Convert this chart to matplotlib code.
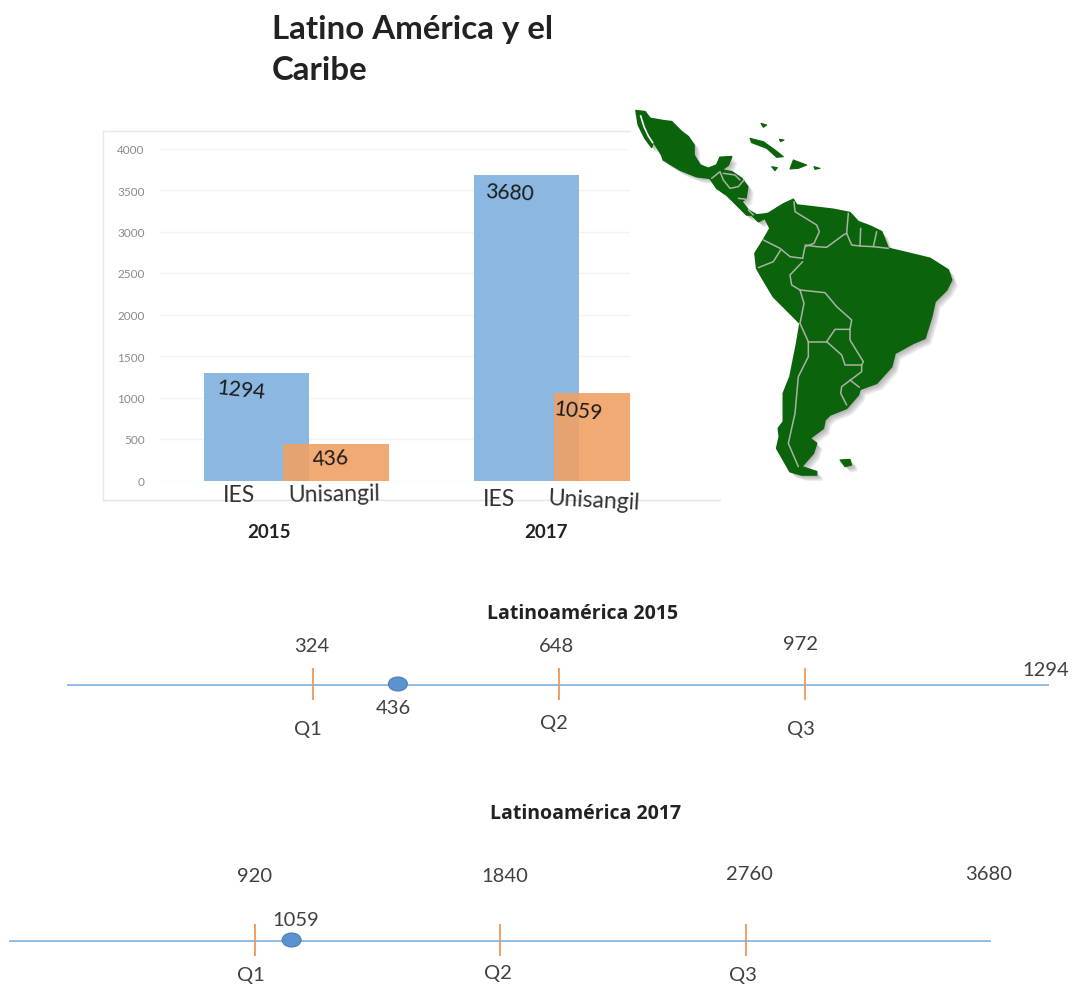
import matplotlib
matplotlib.use('Agg')
import numpy as np
import matplotlib.pyplot as plt
from matplotlib.patches import Polygon, Ellipse

W, H = 1073, 987

# --- datos ---
ies_vals = [1294, 3680]
uni_vals = [436, 1059]
years = ['2015', '2017']
y_ticks = [0, 500, 1000, 1500, 2000, 2500, 3000, 3500, 4000]
q_2015 = [324, 648, 972]
max_2015 = 1294
punto_2015 = 436
q_2017 = [920, 1840, 2760]
max_2017 = 3680
punto_2017 = 1059
q_names = ['Q1', 'Q2', 'Q3']

# contorno del mapa (coordenadas del dibujo, no son datos)
continente = [(48,32),(75,35),(90,55),(130,62),(155,65),(185,95),(205,110),(222,135),(222,165),(240,195),
    (265,205),(290,195),(300,172),(335,170),(325,195),(305,210),(335,215),(365,235),(383,260),(378,295),
    (365,305),(385,330),(410,345),(435,342),(445,340),(490,312),(520,298),(530,315),(590,322),(640,328),
    (690,338),(715,365),(750,378),(785,395),(805,445),(860,458),(930,475),(985,510),(995,540),(980,570),
    (945,605),(935,650),(915,715),(880,730),(825,760),(815,800),(770,850),(720,868),(715,885),(680,925),
    (630,945),(615,960),(610,985),(570,1015),(590,1030),(580,1060),(545,1100),(590,1115),(590,1125),(545,1125),
    (510,1115),(490,1080),(470,1045),(478,1010),(475,985),(490,965),(490,880),(510,830),(530,730),(540,670),
    (510,640),(460,590),(430,540),(410,505),(405,460),(430,420),(450,385),(435,355),(415,365),(395,345),
    (380,345),(360,325),(345,310),(320,285),(290,265),(270,235),(230,230),(180,210),(130,180),(125,165),
    (100,125),(95,142),(75,115),(55,75)]
golfo = [(62,48),(72,80),(85,108),(98,128)]
islas = [
    [(390,115),(430,125),(465,150),(490,170),(470,172),(440,145),(395,128)],
    [(510,207),(520,180),(560,195),(535,205)],
    [(455,200),(472,203),(465,212)],
    [(582,200),(600,205),(585,208)],
    [(423,70),(440,75),(430,82)],
    [(478,118),(492,120),(482,125)],
    [(660,1080),(690,1078),(695,1095),(675,1100)],
]
fronteras = [
    [(522,305),(525,335),(590,375),(598,395),(582,430),(555,440),(548,475)],
    [(555,435),(590,440),(620,442),(670,405),(680,400)],
    [(685,340),(680,400)],
    [(722,385),(720,438)],
    [(770,395),(760,440)],
    [(680,400),(695,435),(720,438),(760,440),(805,445)],
    [(430,420),(480,445),(510,470),(548,475)],
    [(415,503),(460,485),(482,450)],
    [(548,485),(510,525),(515,555),(540,570)],
    [(540,570),(552,610),(540,670)],
    [(540,570),(615,578),(650,620),(695,660),(690,688)],
    [(690,688),(645,688),(620,725)],
    [(540,670),(565,725)],
    [(565,725),(620,725)],
    [(620,725),(665,765),(675,795),(725,795)],
    [(690,688),(690,720),(730,785),(725,795)],
    [(725,795),(725,815),(665,860),(662,880),(680,915)],
    [(690,840),(718,862)],
    [(565,725),(565,770),(535,830),(525,940),(505,1030),(535,1100)],
    [(275,235),(300,215),(310,240),(330,265),(355,260),(372,240)],
    [(310,220),(345,225),(360,240)],
    [(355,295),(380,298)],
    [(385,330),(400,345)],
]

plt.rcParams['font.family'] = ['Lato', 'DejaVu Sans']


def zoom_a_px(pts):
    # el contorno se tomó de un recorte 3x con origen en (620, 100)
    return [(620 + x / 3, 100 + y / 3) for x, y in pts]


def ejes_px(fig, x0, y0, x1, y1):
    return fig.add_axes([x0 / W, 1 - y1 / H, (x1 - x0) / W, (y1 - y0) / H])


fig = plt.figure(figsize=(W / 100, H / 100), dpi=100, facecolor='white')

# --- barras ---
ax = ejes_px(fig, 160, 149.5, 630, 481.5)
ax.set_xlim(160, 630)
ax.set_ylim(0, 4000)
x_ies = [256.5, 526.5]
x_uni = [336, 606.5]
ax.bar(x_ies, ies_vals, width=105, color='#8bb7e0', zorder=2)
ax.bar(x_uni, uni_vals, width=106, color='#f0a165', alpha=0.9, zorder=3)
ax.set_yticks(y_ticks)
ax.tick_params(axis='y', length=0, pad=11, labelsize=8.5, labelcolor='#8a8a8a')
ax.set_xticks([])
ax.grid(axis='y', color='#f3f3f3', linewidth=1)
ax.set_axisbelow(True)
for s in ax.spines.values():
    s.set_visible(False)

# --- rectas de cuartiles ---
def recta(x0, x1, y, qs, maximo, punto):
    a = ejes_px(fig, x0, y - 30, x1, y + 30)
    a.set_xlim(0, maximo)
    a.set_ylim(30, -30)
    a.axis('off')
    a.plot([0, maximo], [0, 0], color='#7fb0de', linewidth=1.2)
    a.vlines(qs, -17, 15, color='#ed8f4f', linewidth=1.2)
    a.add_patch(Ellipse((punto, -1), width=19 * maximo / (x1 - x0), height=14,
                        fc='#5b93cf', ec='#4a80ba', lw=0.8, zorder=4))
    return a


recta(67, 1049, 686, q_2015, max_2015, punto_2015)
recta(9, 991, 942, q_2017, max_2017, punto_2017)

# --- capa de texto y mapa en pixeles ---
ov = fig.add_axes([0, 0, 1, 1], facecolor='none')
ov.set_xlim(0, W)
ov.set_ylim(H - 1, -1)
ov.axis('off')

# marco del grafico
ov.plot([103, 103, 630], [500, 131, 131], color='#e8e8e8', lw=1)
ov.plot([103, 720], [500, 500], color='#e4e4e4', lw=1)

# mapa
verde = '#0b640b'
for i in range(5, 0, -1):
    desp = i * 1.2
    for pol in [continente] + islas[6:]:
        p = [(x + desp, y + desp) for x, y in zoom_a_px(pol)]
        ov.add_patch(Polygon(p, closed=True, fc='#555555', ec='none', alpha=0.11))
ov.add_patch(Polygon(zoom_a_px(continente), closed=True, fc=verde, ec=verde, lw=1.2, joinstyle='round'))
for pol in islas:
    ov.add_patch(Polygon(zoom_a_px(pol), closed=True, fc=verde, ec=verde, lw=0.8, joinstyle='round'))
xs, ys = zip(*zoom_a_px(golfo))
ov.plot(xs, ys, color='white', lw=1.2)
for f in fronteras:
    xs, ys = zip(*zoom_a_px(f))
    ov.plot(xs, ys, color='#a9b3a4', lw=1.1, solid_capstyle='round')

# titulo
ov.text(272, 29, 'Latino América y el', fontsize=23.8, fontweight='bold', color='#222222', va='center', ha='left')
ov.text(272, 69, 'Caribe', fontsize=23.8, fontweight='bold', color='#222222', va='center', ha='left')

# etiquetas de barras
mano = dict(fontsize=15, color='#1a1a1a', ha='center', va='center')
ov.text(241, 390, str(ies_vals[0]), rotation=-6, **mano)
ov.text(331, 458, str(uni_vals[0]), rotation=3, **mano)
ov.text(510, 192, str(ies_vals[1]), rotation=-3, **mano)
ov.text(578, 411, str(uni_vals[1]), rotation=-6, **mano)
cat = dict(fontsize=16.5, color='#333333', ha='center', va='center')
ov.text(239, 494, 'IES', **cat)
ov.text(334, 494, 'Unisangil', rotation=1, **cat)
ov.text(499, 498, 'IES', **cat)
ov.text(594, 500, 'Unisangil', rotation=-3, **cat)
anio = dict(fontsize=13.5, color='#222222', ha='center', va='center', fontweight='bold')
ov.text(269, 531, years[0], **anio)
ov.text(546, 531, years[1], **anio)

# textos de las rectas
num = dict(fontsize=14.5, color='#404040', ha='center', va='center')
tit = dict(fontsize=14, color='#222222', fontweight='bold', ha='center', va='center', family=['Open Sans', 'DejaVu Sans'])
ov.text(583, 613, 'Latinoamérica 2015', **tit)
for x, y, v in zip([312, 557, 800], [645, 645, 643], q_2015):
    ov.text(x, y, str(v), **num)
ov.text(1046, 669, str(max_2015), **num)
ov.text(393, 707, str(punto_2015), **num)
for x, y, n in zip([308, 554, 801], [728, 723, 728], q_names):
    ov.text(x, y, n, **num)

ov.text(586, 813, 'Latinoamérica 2017', **tit)
for x, y, v in zip([255, 505, 749], [875, 875, 873], q_2017):
    ov.text(x, y, str(v), **num)
ov.text(989, 873, str(max_2017), **num)
ov.text(296, 919, str(punto_2017), **num)
for x, y, n in zip([251, 498, 743], [975, 973, 975], q_names):
    ov.text(x, y, n, **num)

fig.savefig('out.png', dpi=100)
